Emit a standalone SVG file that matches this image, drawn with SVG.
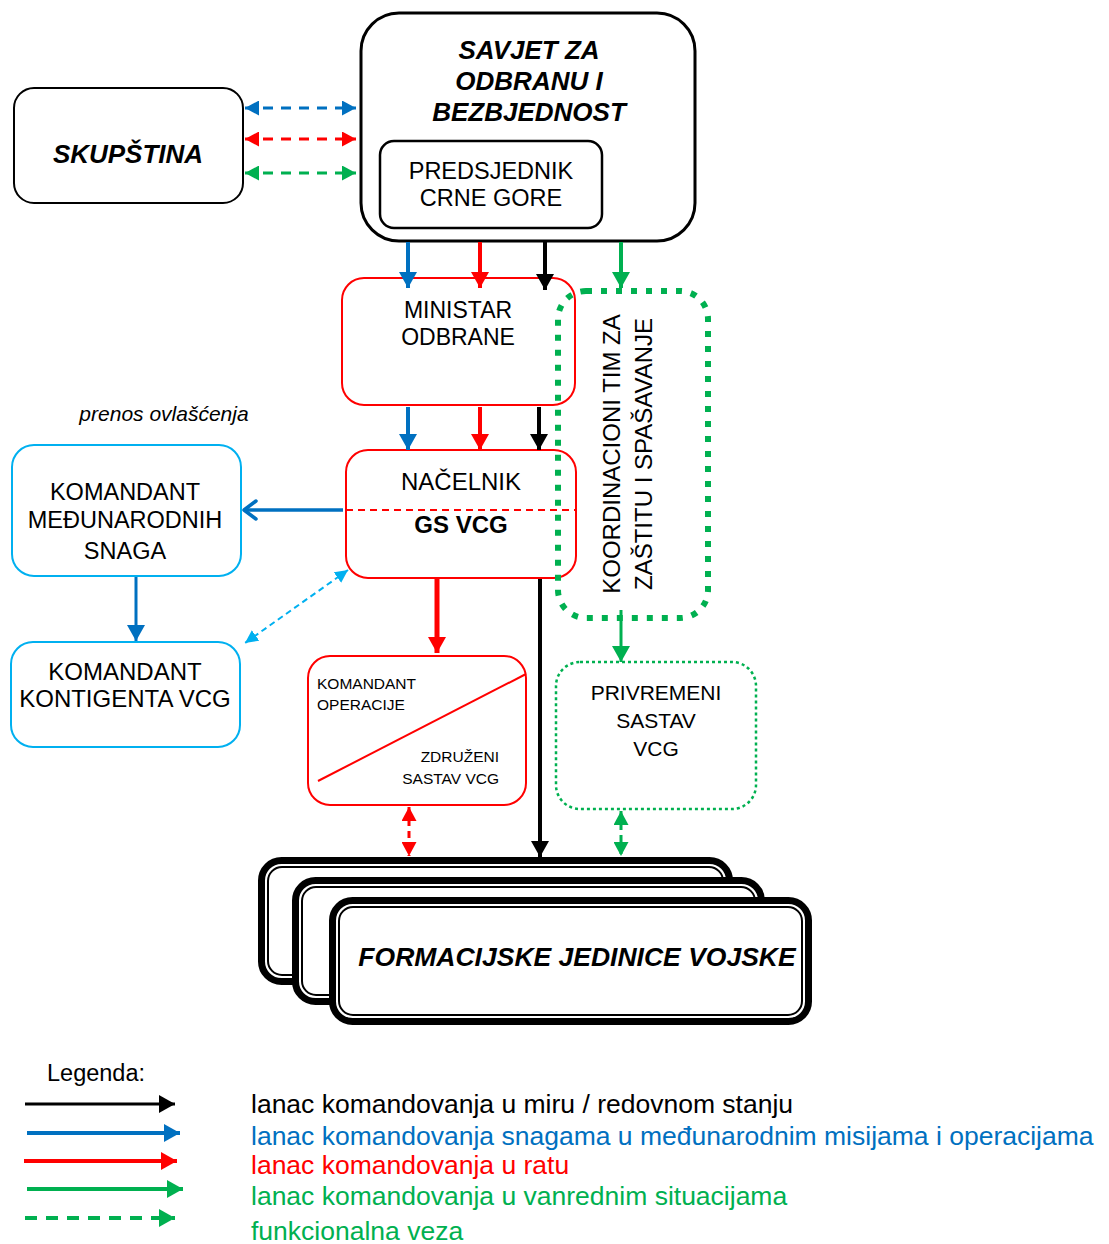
<svg xmlns="http://www.w3.org/2000/svg" width="1109" height="1244" viewBox="0 0 1109 1244">
<defs>
<style>
text{font-family:"Liberation Sans",Arial,sans-serif;fill:#000}
.c{text-anchor:middle}
.bi{font-weight:bold;font-style:italic}
.box{fill:#fff;stroke:#000}
.redb{fill:#fff;stroke:#ff0000;stroke-width:2}
.lb{fill:#fff;stroke:#00b0f0;stroke-width:2}
.blk{stroke:#000;fill:none}
.blu{stroke:#0070c0;fill:none}
.red{stroke:#ff0000;fill:none}
.grn{stroke:#00b050;fill:none}
</style>
<marker id="hk" viewBox="0 0 16 18" refX="16" refY="9" markerWidth="16" markerHeight="18" markerUnits="userSpaceOnUse" orient="auto-start-reverse"><path d="M0,0 L16,9 L0,18 z" fill="#000"/></marker>
<marker id="hb" viewBox="0 0 16 18" refX="16" refY="9" markerWidth="16" markerHeight="18" markerUnits="userSpaceOnUse" orient="auto-start-reverse"><path d="M0,0 L16,9 L0,18 z" fill="#0070c0"/></marker>
<marker id="hr" viewBox="0 0 16 18" refX="16" refY="9" markerWidth="16" markerHeight="18" markerUnits="userSpaceOnUse" orient="auto-start-reverse"><path d="M0,0 L16,9 L0,18 z" fill="#ff0000"/></marker>
<marker id="hg" viewBox="0 0 16 18" refX="16" refY="9" markerWidth="16" markerHeight="18" markerUnits="userSpaceOnUse" orient="auto-start-reverse"><path d="M0,0 L16,9 L0,18 z" fill="#00b050"/></marker>
<marker id="sb" viewBox="0 0 14 15" refX="14" refY="7.5" markerWidth="14" markerHeight="15" markerUnits="userSpaceOnUse" orient="auto-start-reverse"><path d="M0,0 L14,7.5 L0,15 z" fill="#0070c0"/></marker>
<marker id="sr" viewBox="0 0 14 15" refX="14" refY="7.5" markerWidth="14" markerHeight="15" markerUnits="userSpaceOnUse" orient="auto-start-reverse"><path d="M0,0 L14,7.5 L0,15 z" fill="#ff0000"/></marker>
<marker id="sg" viewBox="0 0 14 15" refX="14" refY="7.5" markerWidth="14" markerHeight="15" markerUnits="userSpaceOnUse" orient="auto-start-reverse"><path d="M0,0 L14,7.5 L0,15 z" fill="#00b050"/></marker>
<marker id="sl" viewBox="0 0 14 14" refX="14" refY="7" markerWidth="13" markerHeight="13" markerUnits="userSpaceOnUse" orient="auto-start-reverse"><path d="M0,0 L14,7 L0,14 z" fill="#00b0f0"/></marker>
<marker id="ob" viewBox="0 0 16 22" refX="14" refY="11" markerWidth="16" markerHeight="22" markerUnits="userSpaceOnUse" orient="auto"><path d="M2,2 L14,11 L2,20" fill="none" stroke="#0070c0" stroke-width="3.5" stroke-linecap="round" stroke-linejoin="round"/></marker>
</defs>

<g id="skupstina">
<rect class="box" x="14" y="88" width="229" height="115" rx="20" stroke-width="2"/>
<text class="c bi" x="128" y="163" font-size="26">SKUPŠTINA</text>
</g>

<g id="savjet">
<rect class="box" x="361" y="13" width="334" height="228" rx="38" stroke-width="3"/>
<text class="c bi" x="529" y="59" font-size="26">SAVJET ZA</text>
<text class="c bi" x="529" y="90" font-size="26">ODBRANU I</text>
<text class="c bi" x="529" y="121" font-size="26">BEZBJEDNOST</text>
</g>

<g id="predsjednik">
<rect class="box" x="380" y="141" width="222" height="87" rx="14" stroke-width="2.5"/>
<text class="c" x="491" y="179" font-size="23.5">PREDSJEDNIK</text>
<text class="c" x="491" y="206" font-size="23.5">CRNE GORE</text>
</g>

<g id="ministar">
<rect class="redb" x="342" y="278" width="233" height="127" rx="22"/>
<text class="c" x="458" y="318" font-size="23">MINISTAR</text>
<text class="c" x="458" y="345" font-size="23">ODBRANE</text>
</g>

<g id="nacelnik">
<rect class="redb" x="346" y="450" width="230" height="128" rx="22"/>
<line x1="346" y1="510" x2="576" y2="510" stroke="#ff0000" stroke-width="2" stroke-dasharray="7 5"/>
<text class="c" x="461" y="490" font-size="24">NAČELNIK</text>
<text class="c" x="461" y="533" font-size="24" font-weight="bold">GS VCG</text>
</g>

<g id="koordinacioni">
<rect x="558" y="291" width="150" height="327" rx="28" fill="none" stroke="#00b050" stroke-width="6" stroke-dasharray="6 9"/>
<text class="c" transform="translate(620,454) rotate(-90)" font-size="24">KOORDINACIONI TIM ZA</text>
<text class="c" transform="translate(652,454) rotate(-90)" font-size="24">ZAŠTITU I SPAŠAVANJE</text>
</g>

<g id="komandant-snaga">
<rect class="lb" x="12" y="445" width="229" height="131" rx="22"/>
<text class="c" x="125" y="500" font-size="23.5">KOMANDANT</text>
<text class="c" x="125" y="528" font-size="23.5">MEĐUNARODNIH</text>
<text class="c" x="125" y="559" font-size="23.5">SNAGA</text>
</g>

<g id="komandant-kontigenta">
<rect class="lb" x="11" y="642" width="229" height="105" rx="22"/>
<text class="c" x="125" y="680" font-size="24">KOMANDANT</text>
<text class="c" x="125" y="707" font-size="24">KONTIGENTA VCG</text>
</g>

<g id="prenos">
<text class="c" x="164" y="421" font-size="21" font-style="italic">prenos ovlašćenja</text>
</g>

<g id="komandant-operacije">
<rect class="redb" x="308" y="656" width="218" height="149" rx="22"/>
<line x1="318" y1="781" x2="526" y2="674" stroke="#ff0000" stroke-width="2"/>
<text x="317" y="689" font-size="15.5">KOMANDANT</text>
<text x="317" y="710" font-size="15.5">OPERACIJE</text>
<text x="499" y="762" font-size="15.5" text-anchor="end">ZDRUŽENI</text>
<text x="499" y="784" font-size="15.5" text-anchor="end">SASTAV VCG</text>
</g>

<g id="privremeni">
<rect x="556" y="662" width="200" height="147" rx="24" fill="none" stroke="#00b050" stroke-width="2.5" stroke-dasharray="3 3"/>
<text class="c" x="656" y="700" font-size="21">PRIVREMENI</text>
<text class="c" x="656" y="728" font-size="21">SASTAV</text>
<text class="c" x="656" y="756" font-size="21">VCG</text>
</g>

<g id="formacijske">
<rect class="box" x="261.5" y="860.5" width="468" height="121" rx="20" stroke-width="7"/>
<rect x="268" y="867" width="455" height="108" rx="14" fill="none" stroke="#000" stroke-width="2"/>
<rect class="box" x="295.5" y="880.5" width="466" height="121" rx="20" stroke-width="7"/>
<rect x="302" y="887" width="453" height="108" rx="14" fill="none" stroke="#000" stroke-width="2"/>
<rect class="box" x="332.5" y="900.5" width="476" height="121" rx="20" stroke-width="7"/>
<rect x="339" y="907" width="463" height="108" rx="14" fill="none" stroke="#000" stroke-width="2"/>
<text class="c bi" x="577" y="966" font-size="26.5">FORMACIJSKE JEDINICE VOJSKE</text>
</g>

<g id="connectors">
<line class="blu" x1="245" y1="108" x2="356" y2="108" stroke-width="3" stroke-dasharray="10 8" marker-start="url(#sb)" marker-end="url(#sb)"/>
<line class="red" x1="245" y1="139" x2="356" y2="139" stroke-width="3" stroke-dasharray="10 8" marker-start="url(#sr)" marker-end="url(#sr)"/>
<line class="grn" x1="245" y1="173" x2="356" y2="173" stroke-width="3" stroke-dasharray="10 8" marker-start="url(#sg)" marker-end="url(#sg)"/>
<line class="blu" x1="408" y1="242" x2="408" y2="288" stroke-width="4" marker-end="url(#hb)"/>
<line class="red" x1="480" y1="242" x2="480" y2="288" stroke-width="4" marker-end="url(#hr)"/>
<line class="blk" x1="545" y1="242" x2="545" y2="290" stroke-width="4" marker-end="url(#hk)"/>
<line class="grn" x1="621" y1="242" x2="621" y2="288" stroke-width="4" marker-end="url(#hg)"/>
<line class="blu" x1="408" y1="407" x2="408" y2="450" stroke-width="4" marker-end="url(#hb)"/>
<line class="red" x1="480" y1="407" x2="480" y2="450" stroke-width="4" marker-end="url(#hr)"/>
<line class="blk" x1="539" y1="407" x2="539" y2="450" stroke-width="4" marker-end="url(#hk)"/>
<line class="blu" x1="343" y1="510" x2="244" y2="510" stroke-width="3.5" marker-end="url(#ob)"/>
<line class="blu" x1="136" y1="577" x2="136" y2="641" stroke-width="3" marker-end="url(#hb)"/>
<line x1="348" y1="570" x2="245" y2="643" stroke="#00b0f0" stroke-width="2" stroke-dasharray="6 4" marker-start="url(#sl)" marker-end="url(#sl)"/>
<line class="red" x1="437" y1="579" x2="437" y2="653" stroke-width="5" marker-end="url(#hr)"/>
<line class="blk" x1="540" y1="579" x2="540" y2="857" stroke-width="4" marker-end="url(#hk)"/>
<line class="grn" x1="621" y1="610" x2="621" y2="662" stroke-width="3" marker-end="url(#hg)"/>
<line class="red" x1="409" y1="807" x2="409" y2="856" stroke-width="3" stroke-dasharray="7 5" marker-start="url(#sr)" marker-end="url(#sr)"/>
<line class="grn" x1="621" y1="811" x2="621" y2="856" stroke-width="3" stroke-dasharray="7 5" marker-start="url(#sg)" marker-end="url(#sg)"/>
</g>

<g id="legend">
<text x="47" y="1081" font-size="23.5">Legenda:</text>
<line class="blk" x1="25" y1="1104" x2="175" y2="1104" stroke-width="3" marker-end="url(#hk)"/>
<line class="blu" x1="27" y1="1133" x2="180" y2="1133" stroke-width="4" marker-end="url(#hb)"/>
<line class="red" x1="24" y1="1161" x2="177" y2="1161" stroke-width="4" marker-end="url(#hr)"/>
<line class="grn" x1="27" y1="1189" x2="183" y2="1189" stroke-width="4" marker-end="url(#hg)"/>
<line class="grn" x1="25" y1="1218" x2="175" y2="1218" stroke-width="4" stroke-dasharray="12 9" marker-end="url(#hg)"/>
<text x="251" y="1113" font-size="26.5">lanac komandovanja u miru / redovnom stanju</text>
<text x="251" y="1145" font-size="26.5" style="fill:#0070c0">lanac komandovanja snagama u međunarodnim misijama i operacijama</text>
<text x="251" y="1174" font-size="26.5" style="fill:#ff0000">lanac komandovanja u ratu</text>
<text x="251" y="1205" font-size="26.5" style="fill:#00b050">lanac komandovanja u vanrednim situacijama</text>
<text x="251" y="1240" font-size="26.5" style="fill:#00b050">funkcionalna veza</text>
</g>
</svg>
